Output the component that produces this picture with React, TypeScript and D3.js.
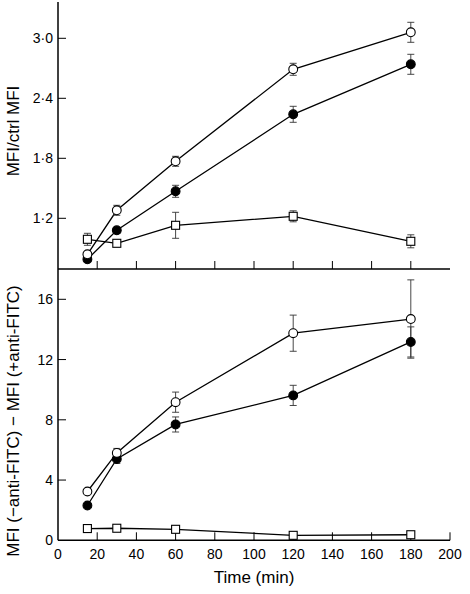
import React from "react";
import * as d3 from "d3";

const times = [15, 30, 60, 120, 180];

const topOpen = [0.84, 1.28, 1.77, 2.69, 3.06];
const topOpenErr = [0.02, 0.05, 0.05, 0.06, 0.1];
const topFilled = [0.79, 1.08, 1.47, 2.24, 2.74];
const topFilledErr = [0.02, 0.03, 0.06, 0.08, 0.1];
const topSquare = [0.99, 0.95, 1.13, 1.22, 0.97];
const topSquareErr = [0.06, 0.03, 0.13, 0.055, 0.065];

const botOpen = [3.24, 5.8, 9.17, 13.75, 14.69];
const botOpenErr = [0.1, 0.3, 0.67, 1.2, 2.6];
const botFilled = [2.31, 5.4, 7.69, 9.62, 13.17];
const botFilledErr = [0.1, 0.3, 0.5, 0.67, 1.0];
const botSquare = [0.78, 0.8, 0.73, 0.33, 0.37];
const botSquareErr = [0, 0, 0, 0, 0];

const xTicks = [0, 20, 40, 60, 80, 100, 120, 140, 160, 180, 200];
const topYTicks = [1.2, 1.8, 2.4, 3.0];
const botYTicks = [0, 4, 8, 12, 16];

const FONT = "'Liberation Sans', Arial, Helvetica, sans-serif";

type Series = { vals: number[]; errs: number[]; marker: "open" | "filled" | "square" };

function Panel({ y, series }: { y: d3.ScaleLinear<number, number>; series: Series[] }) {
  const x = d3.scaleLinear().domain([0, 200]).range([58, 450]);
  const line = d3
    .line<number>()
    .x((_, i) => x(times[i]))
    .y((v) => y(v));
  return (
    <g>
      {series.map((s, si) => (
        <g key={si}>
          <path d={line(s.vals) || ""} fill="none" stroke="#000" strokeWidth={1.3} />
          {s.vals.map((v, i) =>
            s.errs[i] > 0 ? (
              <g key={i} stroke="#333" strokeWidth={0.9}>
                <line x1={x(times[i])} x2={x(times[i])} y1={y(v - s.errs[i])} y2={y(v + s.errs[i])} />
                <line x1={x(times[i]) - 3.5} x2={x(times[i]) + 3.5} y1={y(v - s.errs[i])} y2={y(v - s.errs[i])} />
                <line x1={x(times[i]) - 3.5} x2={x(times[i]) + 3.5} y1={y(v + s.errs[i])} y2={y(v + s.errs[i])} />
              </g>
            ) : null
          )}
        </g>
      ))}
      {series.map((s, si) =>
        s.vals.map((v, i) =>
          s.marker === "square" ? (
            <rect
              key={si + "-" + i}
              x={x(times[i]) - 4}
              y={y(v) - 4}
              width={8}
              height={8}
              fill="#fff"
              stroke="#000"
              strokeWidth={1.1}
            />
          ) : (
            <circle
              key={si + "-" + i}
              cx={x(times[i])}
              cy={y(v)}
              r={4.4}
              fill={s.marker === "filled" ? "#000" : "#fff"}
              stroke="#000"
              strokeWidth={1.1}
            />
          )
        )
      )}
    </g>
  );
}

export default function App() {
  const x = d3.scaleLinear().domain([0, 200]).range([58, 450]);
  const yTop = d3.scaleLinear().domain([1.2, 3.0]).range([218.3, 38.3]);
  const yBot = d3.scaleLinear().domain([0, 16]).range([540.3, 299.3]);
  const topAxisY = 269;
  const botAxisY = 540.3;
  const fmtTop = (v: number) => d3.format(".1f")(v).replace(".", "·");

  return (
    <svg
      width={470}
      height={594}
      style={{ position: "absolute", left: 0, top: 0, background: "#fff" }}
      fontFamily={FONT}
    >
      <rect x={0} y={0} width={470} height={594} fill="#fff" />
      {/* axes lines */}
      <line x1={58} x2={58} y1={2} y2={botAxisY} stroke="#000" strokeWidth={1.5} />
      <line x1={58} x2={450} y1={topAxisY} y2={topAxisY} stroke="#000" strokeWidth={1.5} />
      <line x1={58} x2={450} y1={botAxisY} y2={botAxisY} stroke="#000" strokeWidth={1.5} />

      {/* x ticks */}
      {xTicks.filter((t) => t > 0 && t < 200).map((t) => (
        <line key={"tt" + t} x1={x(t)} x2={x(t)} y1={topAxisY} y2={topAxisY - 8} stroke="#000" strokeWidth={1} />
      ))}
      {xTicks.filter((t) => t > 0).map((t) => (
        <line key={"bt" + t} x1={x(t)} x2={x(t)} y1={botAxisY} y2={botAxisY - 8} stroke="#000" strokeWidth={1} />
      ))}
      {xTicks.map((t) => (
        <text key={"xl" + t} x={x(t)} y={559} textAnchor="middle" fontSize={14} fill="#000">
          {t}
        </text>
      ))}

      {/* y ticks top */}
      {topYTicks.map((t) => (
        <g key={"ty" + t}>
          <line x1={58} x2={66} y1={yTop(t)} y2={yTop(t)} stroke="#000" strokeWidth={1} />
          <text x={53} y={yTop(t)} dy="0.36em" textAnchor="end" fontSize={14} fill="#000">
            {fmtTop(t)}
          </text>
        </g>
      ))}
      {botYTicks.map((t) => (
        <g key={"by" + t}>
          {t > 0 && <line x1={58} x2={66} y1={yBot(t)} y2={yBot(t)} stroke="#000" strokeWidth={1} />}
          <text x={53} y={yBot(t)} dy="0.36em" textAnchor="end" fontSize={14} fill="#000">
            {t}
          </text>
        </g>
      ))}

      {/* axis titles */}
      <text x={254} y={583} textAnchor="middle" fontSize={17} fill="#000">
        Time (min)
      </text>
      <text transform="translate(19,131) rotate(-90)" textAnchor="middle" fontSize={17} fill="#000">
        MFI/ctrl MFI
      </text>
      <text transform="translate(19,421) rotate(-90)" textAnchor="middle" fontSize={17} fill="#000">
        MFI (−anti-FITC) − MFI (+anti-FITC)
      </text>

      <Panel
        y={yTop}
        series={[
          { vals: topSquare, errs: topSquareErr, marker: "square" },
          { vals: topFilled, errs: topFilledErr, marker: "filled" },
          { vals: topOpen, errs: topOpenErr, marker: "open" },
        ]}
      />
      <Panel
        y={yBot}
        series={[
          { vals: botSquare, errs: botSquareErr, marker: "square" },
          { vals: botFilled, errs: botFilledErr, marker: "filled" },
          { vals: botOpen, errs: botOpenErr, marker: "open" },
        ]}
      />
    </svg>
  );
}
